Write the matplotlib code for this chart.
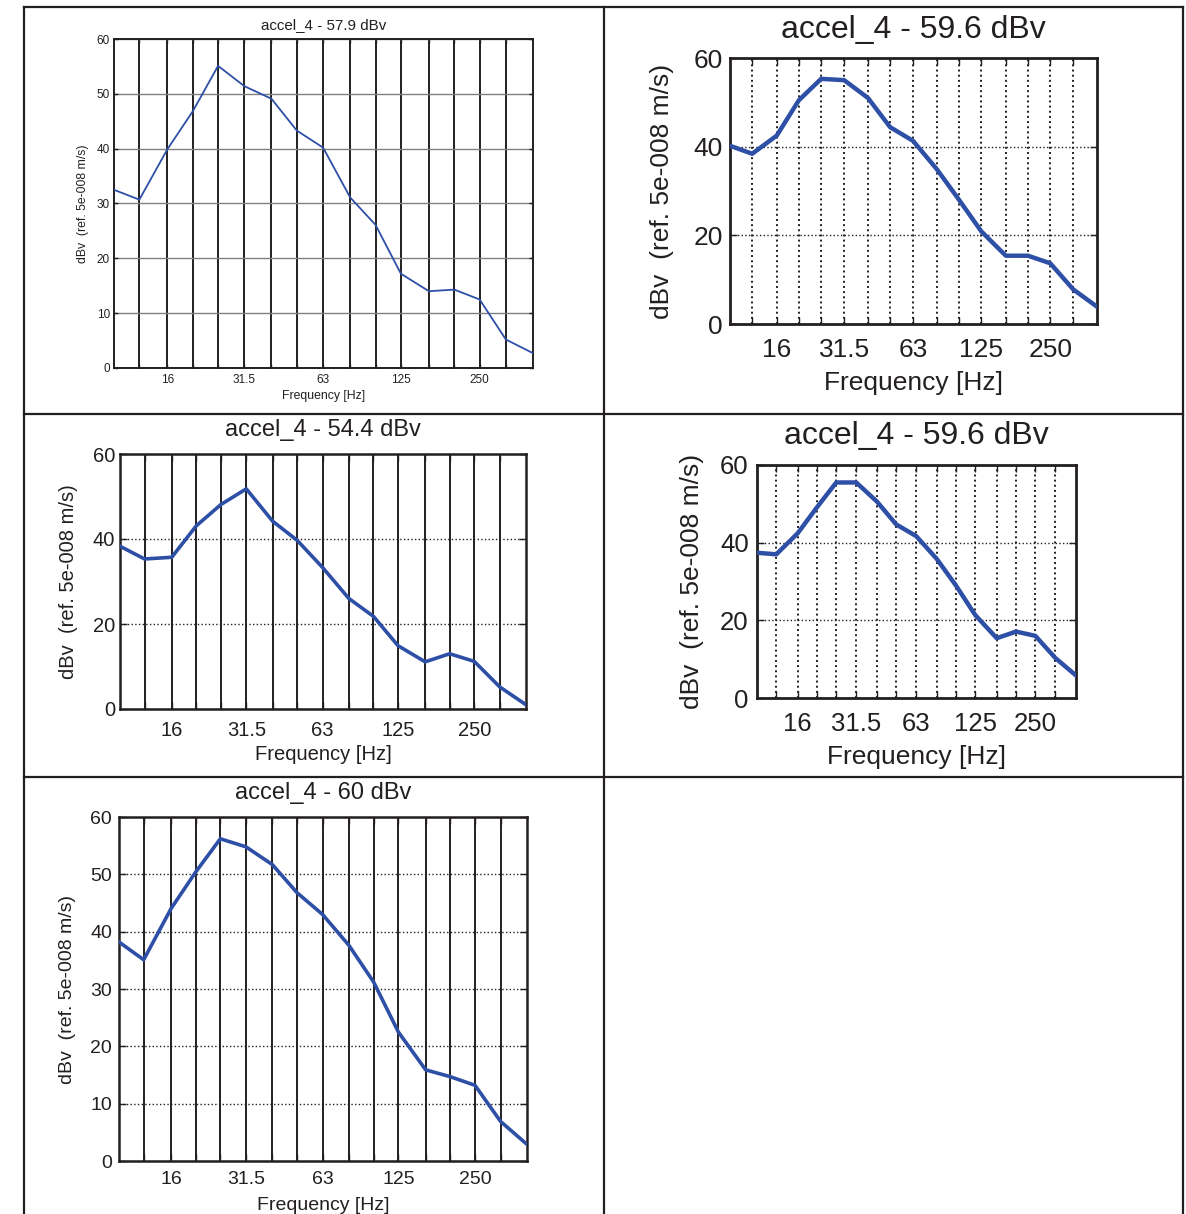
import matplotlib.pyplot as plt
from matplotlib.lines import Line2D
from matplotlib.ticker import NullFormatter

plt.rcParams['font.family'] = ['Liberation Sans', 'DejaVu Sans']

W, H = 1186, 1214
INK = '#231f20'
BLUE = '#2e4fa6'

# 1/3 octave band centres [Hz]
bands = [10, 12.5, 16, 20, 25, 31.5, 40, 50, 63, 80, 100, 125, 160, 200, 250, 315, 400]
tick_bands = [16, 31.5, 63, 125, 250]
tick_labels = ['16', '31.5', '63', '125', '250']

titles = ['accel_4 - 57.9 dBv', 'accel_4 - 59.6 dBv', 'accel_4 - 54.4 dBv',
          'accel_4 - 59.6 dBv', 'accel_4 - 60 dBv']

level_1 = [32.5, 30.7, 39.9, 46.8, 55.1, 51.4, 49.1, 43.3, 40.2, 31.1, 26.1, 17.2, 14.0, 14.3, 12.5, 5.2, 2.7]
level_2 = [40.2, 38.4, 42.5, 50.5, 55.3, 55.0, 51.0, 44.4, 41.3, 34.9, 28.0, 20.9, 15.4, 15.4, 13.7, 7.8, 3.9]
level_3 = [38.3, 35.3, 35.7, 43.1, 48.1, 51.8, 44.2, 39.7, 33.3, 26.0, 21.8, 14.9, 11.1, 13.0, 11.2, 5.2, 1.0]
level_4 = [37.4, 37.0, 42.4, 49.1, 55.5, 55.5, 50.6, 44.7, 41.7, 35.8, 28.9, 21.3, 15.4, 17.1, 16.0, 10.3, 5.8]
level_5 = [38.2, 35.1, 44.0, 50.4, 56.2, 54.8, 51.7, 46.8, 43.0, 37.6, 31.2, 22.5, 15.9, 14.7, 13.2, 6.9, 2.9]
levels = [level_1, level_2, level_3, level_4, level_5]

ylabel = 'dBv  (ref. 5e-008 m/s)'
xlabel = 'Frequency [Hz]'

# layout per panel: axes box in pixels (L, T, R, B), text positions, sizes
panels = [
    dict(box=(114, 39, 533, 368), title_y=25, ylab_x=83, xlab_y=396, ystep=10,
         fs_title=10.9, fs_tick=8.5, fs_lab=8.8, lw=1.3, spine=1.4, xpad=4.5, ypad=3,
         vgrid='-', hgrid='-', hcol='#808080', tlen=3),
    dict(box=(730, 58, 1097, 324), title_y=30, ylab_x=662, xlab_y=383, ystep=20,
         fs_title=23, fs_tick=19, fs_lab=19, lw=3.2, spine=2.0, xpad=10, ypad=5,
         vgrid=':', hgrid=':', hcol=INK, tlen=5),
    dict(box=(120, 454, 526, 709), title_y=430, ylab_x=68, xlab_y=755, ystep=20,
         fs_title=17, fs_tick=14.5, fs_lab=14.5, lw=2.6, spine=1.8, xpad=8.5, ypad=3.5,
         vgrid='-', hgrid=':', hcol=INK, tlen=5),
    dict(box=(757, 465, 1076, 698), title_y=436, ylab_x=692, xlab_y=757, ystep=20,
         fs_title=23, fs_tick=18.5, fs_lab=19, lw=3.2, spine=2.0, xpad=10, ypad=6,
         vgrid=':', hgrid=':', hcol=INK, tlen=5),
    dict(box=(119, 817, 527, 1161), title_y=793, ylab_x=68, xlab_y=1205, ystep=10,
         fs_title=17, fs_tick=14, fs_lab=14, lw=2.6, spine=1.8, xpad=7, ypad=5,
         vgrid='-', hgrid=':', hcol=INK, tlen=5),
]

fig = plt.figure(figsize=(W / 100, H / 100), dpi=100)
fig.patch.set_facecolor('white')


def fx(x):
    return x / W


def fy(y):
    return 1 - y / H


def draw(p, title, values):
    L, T, R, B = p['box']
    ax = fig.add_axes([fx(L), fy(B), (R - L) / W, (B - T) / H])
    ax.plot(bands, values, color=BLUE, lw=p['lw'], solid_joinstyle='round', zorder=3)
    ax.set_xscale('log')
    ax.set_xlim(10, 400)
    ax.set_ylim(0, 60)
    ax.set_xticks(tick_bands)
    ax.set_xticklabels(tick_labels)
    ax.set_xticks([b for b in bands[1:-1] if b not in tick_bands], minor=True)
    ax.xaxis.set_minor_formatter(NullFormatter())
    ax.set_yticks(range(0, 61, p['ystep']))
    ax.set_yticks([], minor=True)
    ax.grid(axis='x', which='both', color=INK, lw=1.4, ls=p['vgrid'])
    ax.grid(axis='y', which='major', color=p['hcol'], lw=1.0, ls=p['hgrid'])
    for s in ax.spines.values():
        s.set_linewidth(p['spine'])
        s.set_color(INK)
    ax.tick_params(axis='both', which='both', direction='in', top=True, right=True,
                   length=p['tlen'], width=1, colors=INK, labelsize=p['fs_tick'],
                   labelcolor=INK)
    ax.tick_params(axis='x', which='both', pad=p['xpad'])
    ax.tick_params(axis='y', which='both', pad=p['ypad'])

    cx = (L + R) / 2
    cy = (T + B) / 2
    fig.text(fx(cx), fy(p['title_y']), title, ha='center', va='center',
             fontsize=p['fs_title'], color=INK)
    fig.text(fx(cx), fy(p['xlab_y']), xlabel, ha='center', va='center',
             fontsize=p['fs_lab'], color=INK)
    fig.text(fx(p['ylab_x']), fy(cy), ylabel, ha='center', va='center',
             rotation=90, fontsize=p['fs_lab'], color=INK)


for p, t, v in zip(panels, titles, levels):
    draw(p, t, v)

# table frame around the panels
for x in [24, 604, 1183]:
    fig.add_artist(Line2D([fx(x), fx(x)], [fy(7), fy(H)], transform=fig.transFigure,
                          color=INK, lw=1.6))
for y in [7, 413.5, 777]:
    fig.add_artist(Line2D([fx(24), fx(1183)], [fy(y), fy(y)], transform=fig.transFigure,
                          color=INK, lw=1.6))

fig.savefig('out.png', dpi=100)
